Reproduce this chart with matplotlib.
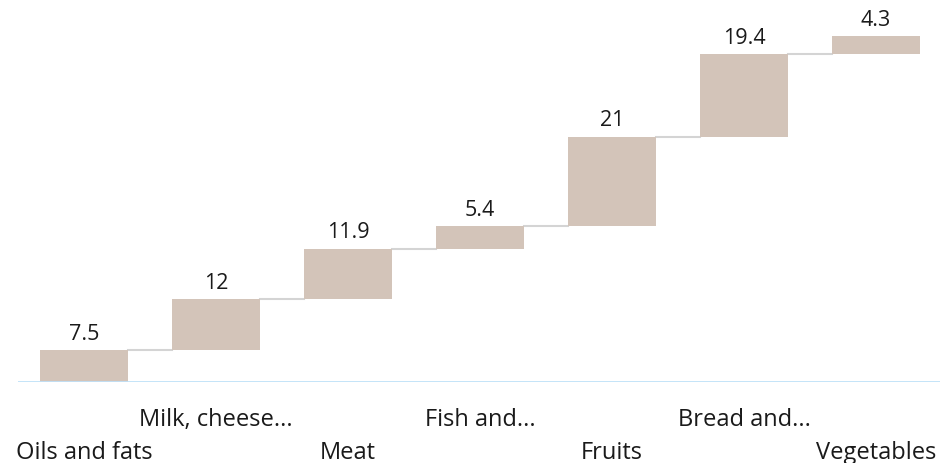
import matplotlib.pyplot as plt
from matplotlib.transforms import blended_transform_factory

categories = ["Oils and fats", "Milk, cheese...", "Meat", "Fish and...",
              "Fruits", "Bread and...", "Vegetables"]
values = [7.5, 12, 11.9, 5.4, 21, 19.4, 4.3]
value_labels = ["7.5", "12", "11.9", "5.4", "21", "19.4", "4.3"]

plt.rcParams['font.family'] = ['Open Sans', 'DejaVu Sans']

fig = plt.figure(figsize=(9.4, 4.63), dpi=100)
ax = fig.add_axes([18 / 940, 81.3 / 463, 922 / 940, 381.7 / 463])

bottoms = []
total = 0
for v in values:
    bottoms.append(total)
    total += v

xs = list(range(len(values)))
ax.bar(xs, values, bottom=bottoms, width=0.665, color="#d3c4b9", zorder=2)

# connectors between bars
for i in range(len(values) - 1):
    top = bottoms[i] + values[i]
    ax.plot([i + 0.3325, i + 1 - 0.3325], [top, top], color="#d4d4d4", lw=1.5, zorder=1)

for i, v in enumerate(values):
    ax.text(i, bottoms[i] + v + 1.2, value_labels[i], ha="center", va="bottom",
            fontsize=15.5, color="#1a1a1a")

ax.axhline(0, color="#bfe1f8", lw=2, zorder=3)

trans = blended_transform_factory(ax.transData, fig.transFigure)
for i, c in enumerate(categories):
    y = (463 - 425.7) / 463 if i % 2 == 1 else (463 - 458.8) / 463
    ax.text(i, y, c, transform=trans, ha="center", va="baseline",
            fontsize=17, color="#1a1a1a", clip_on=False)

ax.set_xlim(-0.5, 6.485)
ax.set_ylim(0, 90)
ax.axis("off")

fig.savefig("out.png", dpi=100)
